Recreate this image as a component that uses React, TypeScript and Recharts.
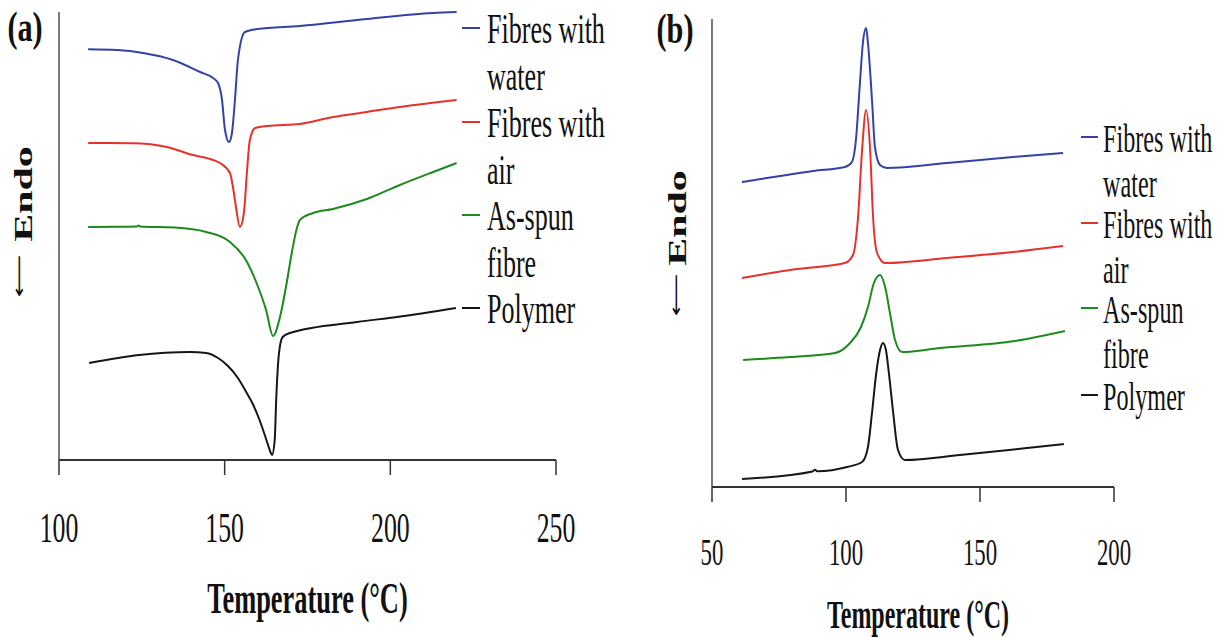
import React from 'react';
import { LineChart, Line, XAxis, YAxis, Legend, Label } from 'recharts';

// DSC scans, heat flow in arbitrary units (endo down)
// (a) first heating
const waterTempA = [108.8, 117.5, 125.4, 134.4, 142.6, 146.5, 148, 149.2, 150.1, 151.3, 152.2, 153.1, 154, 156.1, 159.8, 172.7, 192.9, 212.9, 220];
const waterFlowA = [102.7, 102.5, 101.75, 100, 97, 95.5, 94.25, 90, 82.5, 79.5, 81.75, 90, 100, 107, 107.75, 108.5, 110.25, 111.75, 112];

const airTempA = [108.8, 122.4, 132.6, 140.4, 146.5, 148.6, 151.6, 152.5, 153.4, 154.6, 155.8, 156.7, 157.6, 159.2, 162.8, 172.7, 182.7, 192.9, 202.9, 220];
const airFlowA = [79.25, 79.2, 78.25, 76.25, 75, 74.25, 71.75, 68.25, 63.25, 58.25, 61.75, 71.75, 80, 83, 83.5, 84, 85.75, 87, 88.25, 90];

const spunTempA = [108.8, 118, 123.5, 124, 124.5, 135, 144.4, 151.6, 156.4, 160.1, 162.5, 164.6, 166.7, 168.5, 170.3, 171.5, 172.7, 176.7, 182.7, 192.9, 202.9, 212.9, 220];
const spunFlowA = [58.25, 58.3, 58.35, 58.6, 58.35, 58.1, 57, 54.5, 50, 43.25, 37.5, 31, 35.75, 43.25, 52, 57, 60, 61.75, 62.75, 65.25, 68.75, 72, 74.25];

const polyTempA = [109.1, 124.1, 139.5, 144.4, 148, 151, 154, 156.5, 158.5, 160.3, 161.8, 163, 163.8, 164.3, 165.1, 165.6, 166.4, 167.5, 169.7, 190, 202, 219.8];
const polyFlowA = [24.25, 26.25, 27, 26.75, 25.5, 23.5, 20.5, 17, 14, 10.5, 7, 4, 2, 1.25, 5, 16, 26.75, 30.75, 31.75, 34.5, 35.75, 38];

// (b) cooling
const waterTempB = [61.2, 75.4, 87.7, 99.6, 102.2, 103.7, 105.2, 106.3, 107.5, 108.2, 109.7, 110.8, 112.7, 115.3, 137.7, 162.3, 181];
const waterFlowB = [76.25, 77.75, 79, 80, 81.25, 86.75, 101, 111, 114.75, 111, 96.75, 85, 80.5, 79.75, 81, 82.5, 83.5];

const airTempB = [61.2, 81.7, 99.6, 102.6, 104.5, 106, 107.5, 109, 110.1, 111.6, 114.6, 137.7, 162.3, 181];
const airFlowB = [52.25, 54.5, 56, 58, 67.5, 84.25, 94.25, 84.25, 67.5, 58.5, 56, 57.25, 58.75, 60.25];

const spunTempB = [61.6, 79.1, 95.9, 101.5, 105.6, 108.2, 110.4, 112.7, 114.6, 116.4, 118.3, 120.9, 135.1, 163.1, 181.7];
const spunFlowB = [31.75, 32.5, 33.5, 36, 40, 45, 51, 53, 50, 43.5, 36.75, 33.75, 34.75, 36.5, 39];

const polyTempB = [61.2, 87.5, 88.4, 89.3, 100.4, 106, 108.2, 109.7, 111.2, 112.7, 113.8, 114.9, 116, 117.5, 119.4, 122, 142.5, 167.5, 181.3];
const polyFlowB = [2, 3.9, 4.3, 3.95, 5, 6.25, 10, 18.5, 28, 34.25, 36, 34.25, 28.5, 19.25, 9.25, 6.75, 8, 9.75, 10.75];

const seriesNames = ['Fibres with water', 'Fibres with air', 'As-spun fibre', 'Polymer'];
const legendLines = [['Fibres with', 'water'], ['Fibres with', 'air'], ['As-spun', 'fibre'], ['Polymer']];
const colors = ['#3442a6', '#e8312b', '#1d8a1d', '#161616'];

const ticksA = [100, 150, 200, 250];
const ticksB = [50, 100, 150, 200];

const FONT = '"Liberation Serif", "Times New Roman", serif';
const INK = '#111';

const zip = (t: number[], v: number[]) => t.map((x, i) => ({ t: x, v: v[i] }));

const SqText = ({ x, y, size, sx = 0.6, bold = false, anchor = 'start', children }: any) => (
  <text
    transform={`translate(${x},${y}) scale(${sx},1)`}
    fontFamily={FONT}
    fontSize={size}
    fontWeight={bold ? 700 : 400}
    textAnchor={anchor}
    fill={INK}
  >
    {children}
  </text>
);

const Panel = ({ cfg }: any) => {
  const legend = (props: any) => {
    const payload = props.payload || [];
    return (
      <svg width={cfg.legendW} height={cfg.legendH} style={{ overflow: 'visible', display: 'block' }}>
        {payload.map((entry: any) => {
          const i = seriesNames.indexOf(entry.value);
          const base = cfg.legendBase[i];
          return (
            <g key={entry.value}>
              <line x1={2} x2={cfg.dashEnd} y1={base - 15} y2={base - 15} stroke={colors[i]} strokeWidth={2} />
              {legendLines[i].map((ln, k) => (
                <SqText key={k} x={cfg.textX} y={base + k * cfg.lineGap} size={cfg.legendFont} sx={0.62}>
                  {ln}
                </SqText>
              ))}
            </g>
          );
        })}
      </svg>
    );
  };

  return (
    <div style={{ position: 'absolute', left: cfg.left, top: 0 }}>
      <LineChart width={cfg.width} height={638} margin={cfg.margin}>
        <XAxis
          dataKey="t"
          type="number"
          domain={cfg.xDomain}
          ticks={cfg.ticks}
          height={cfg.xAxisHeight}
          tickSize={15}
          axisLine={{ stroke: '#333', strokeWidth: 2 }}
          tickLine={{ stroke: '#333', strokeWidth: 1.5 }}
          tick={(p: any) => (
            <SqText x={p.x} y={p.y + cfg.tickDy} size={cfg.tickFont} anchor="middle">
              {p.payload.value}
            </SqText>
          )}
        >
          <Label
            content={(p: any) => {
              const vb = p.viewBox || {};
              return (
                <SqText x={vb.x + vb.width / 2 + cfg.titleDx} y={vb.y + cfg.titleDy} size={cfg.titleFont} bold anchor="middle">
                  Temperature (°C)
                </SqText>
              );
            }}
          />
        </XAxis>
        <YAxis
          type="number"
          domain={cfg.yDomain}
          width={1}
          tick={false}
          tickLine={false}
          axisLine={{ stroke: '#333', strokeWidth: 1.3 }}
        >
          <Label
            content={() => (
              <g>
                <text
                  transform={`translate(${cfg.endoX},${cfg.endoY}) scale(0.6,1) rotate(-90)`}
                  fontFamily={FONT}
                  fontSize={42}
                  fontWeight={700}
                  textAnchor="middle"
                  fill={INK}
                >
                  Endo
                </text>
                <text
                  transform={`translate(${cfg.arrowX},${cfg.arrowY}) scale(0.6,1) rotate(-90)`}
                  fontFamily='"DejaVu Sans", sans-serif'
                  fontSize={30}
                  textAnchor="middle"
                  fill={INK}
                >
                  ⟵
                </text>
                <SqText x={cfg.letterX} y={cfg.letterY} size={42} sx={0.72} bold anchor="middle">
                  {cfg.letter}
                </SqText>
              </g>
            )}
          />
        </YAxis>
        <Legend
          layout="vertical"
          align="center"
          verticalAlign="middle"
          content={legend}
          wrapperStyle={{ left: cfg.legendX, top: cfg.legendY, width: cfg.legendW, height: cfg.legendH }}
        />
        {cfg.series.map((d: any[], i: number) => (
          <Line
            key={seriesNames[i]}
            name={seriesNames[i]}
            data={d}
            dataKey="v"
            type="monotone"
            stroke={colors[i]}
            strokeWidth={2}
            dot={false}
            activeDot={false}
            isAnimationActive={false}
          />
        ))}
      </LineChart>
    </div>
  );
};

const panelA = {
  left: 0,
  width: 640,
  margin: { top: 12, right: 84, bottom: 28, left: 58 },
  xAxisHeight: 150,
  xDomain: [100, 250],
  ticks: ticksA,
  yDomain: [0, 112],
  tickDy: 65,
  tickFont: 43,
  titleDx: 0,
  titleDy: 153,
  titleFont: 44,
  endoX: 32,
  endoY: 194,
  arrowX: 25,
  arrowY: 276,
  letter: '(a)',
  letterX: 25,
  letterY: 41,
  legendX: 460,
  legendY: 0,
  legendW: 170,
  legendH: 340,
  legendBase: [43, 137, 230, 323],
  lineGap: 47,
  legendFont: 42,
  dashEnd: 20,
  textX: 27,
  series: [zip(waterTempA, waterFlowA), zip(airTempA, airFlowA), zip(spunTempA, spunFlowA), zip(polyTempA, polyFlowA)],
};

const panelB = {
  left: 640,
  width: 585,
  margin: { top: 19, right: 111, bottom: 21, left: 71 },
  xAxisHeight: 130,
  xDomain: [50, 200],
  ticks: ticksB,
  yDomain: [0, 117],
  tickDy: 61,
  tickFont: 38,
  titleDx: 5,
  titleDy: 141,
  titleFont: 40,
  endoX: 46,
  endoY: 218,
  arrowX: 42,
  arrowY: 295,
  letter: '(b)',
  letterX: 35,
  letterY: 43,
  legendX: 439,
  legendY: 100,
  legendW: 146,
  legendH: 330,
  legendBase: [52, 138, 223, 310],
  lineGap: 45,
  legendFont: 39,
  dashEnd: 19,
  textX: 24,
  series: [zip(waterTempB, waterFlowB), zip(airTempB, airFlowB), zip(spunTempB, spunFlowB), zip(polyTempB, polyFlowB)],
};

export default function App() {
  return (
    <div style={{ position: 'absolute', left: 0, top: 0, width: 1225, height: 638, background: '#fff', overflow: 'hidden' }}>
      <Panel cfg={panelA} />
      <Panel cfg={panelB} />
    </div>
  );
}
